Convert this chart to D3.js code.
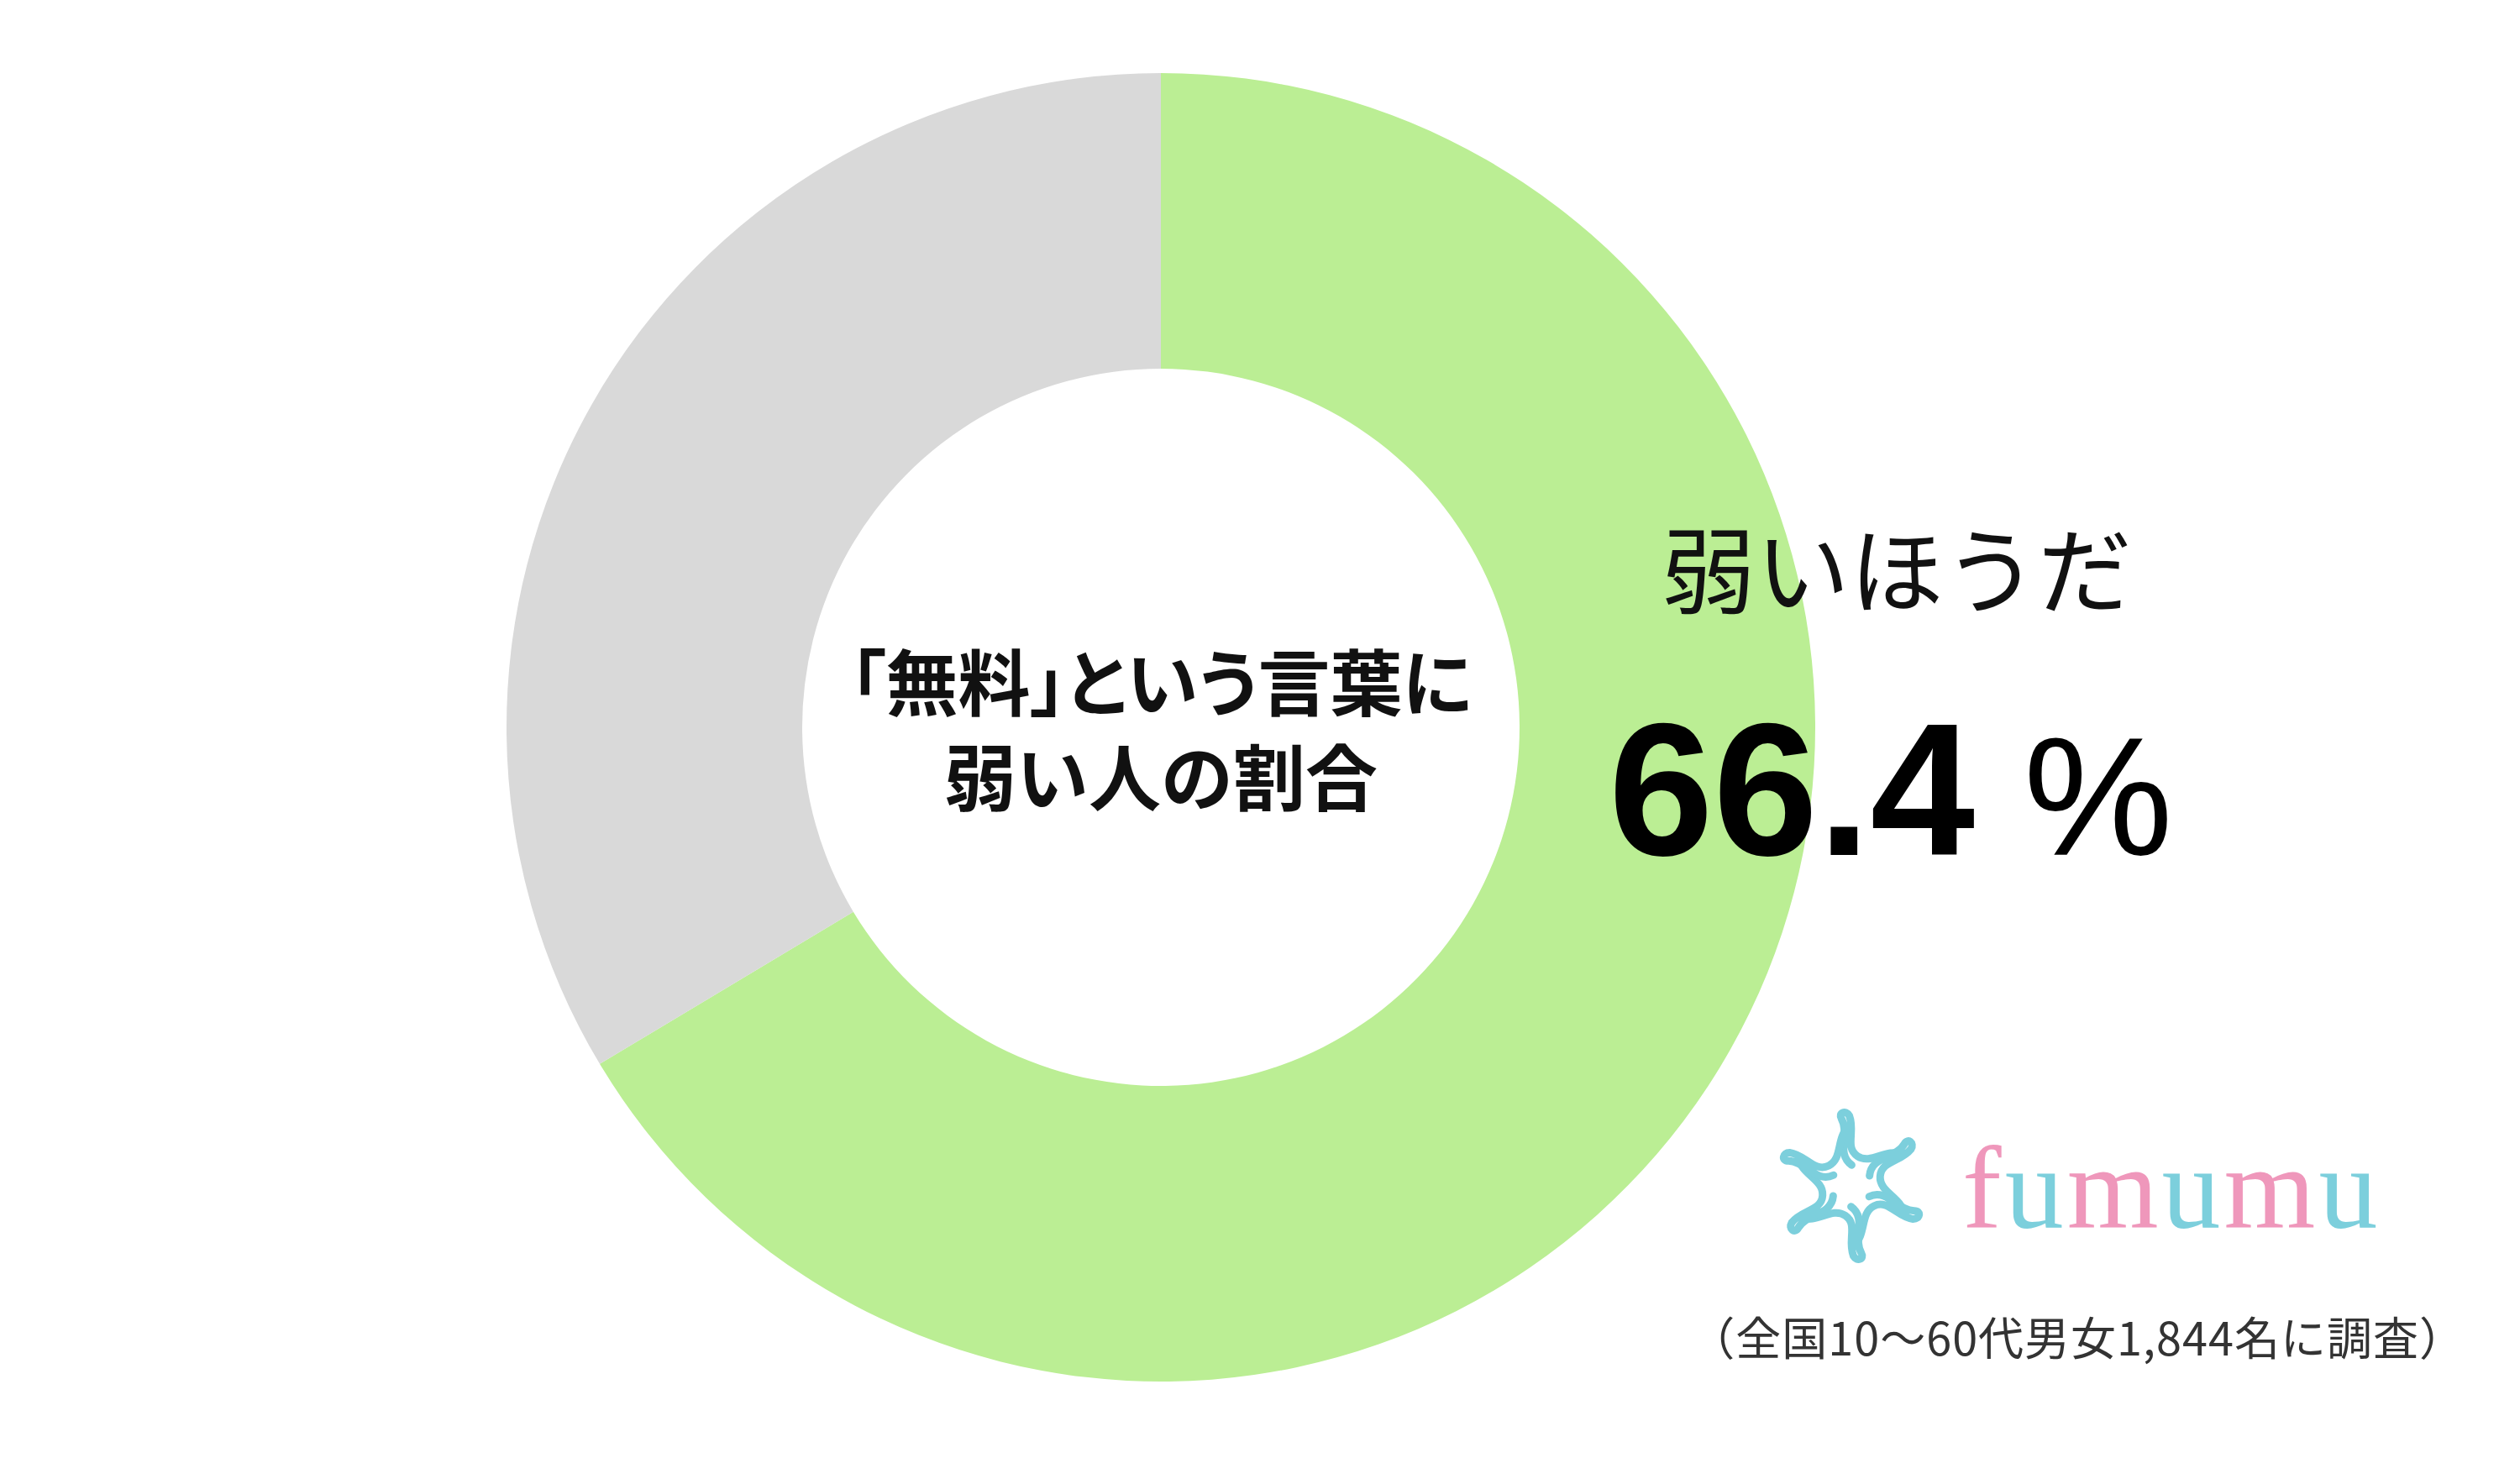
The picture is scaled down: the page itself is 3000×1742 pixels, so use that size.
<!DOCTYPE html>
<html>
<head>
<meta charset="utf-8">
<style>
  body { margin: 0; background: #fff; }
  svg { display: block; }
</style>
<title>「無料」という言葉に弱い人の割合</title>
</head>
<body>
<svg id="chart"></svg>
<script src="https://cdn.jsdelivr.net/npm/d3@7"></script>
<script>

// ===== Data =====
var categories = ['弱いほうだ', 'それ以外'];
var values = [66.4, 33.6];
var colors = ['#bbee94', '#d9d9d9'];
var centerLines = ['「無料」という言葉に', '弱い人の割合'];
var note = '（全国10～60代男女1,844名に調査）';
var brand = ['f', 'u', 'm', 'u', 'm', 'u'];
var brandColors = ['#ef97bb', '#7ccfdc'];

var W = 3000, H = 1742;
var cx = 1382, cy = 866;
var outerR = 779, innerR = 427;

var svg = d3.select('#chart')
    .attr('width', W)
    .attr('height', H);

var jp = "'Noto Sans CJK JP', 'Noto Sans', sans-serif";

// ===== Donut =====
var pie = d3.pie().sort(null).value(d => d);
var arc = d3.arc().innerRadius(innerR).outerRadius(outerR);

var g = svg.append('g')
    .attr('transform', `translate(${cx}, ${cy})`);

g.selectAll('path')
    .data(pie(values))
    .enter()
    .append('path')
        .attr('d', arc)
        .attr('fill', (d, i) => colors[i]);

// center title
g.selectAll('text.center')
    .data(centerLines)
    .enter()
    .append('text')
        .attr('class', 'center')
        .attr('x', 0)
        .attr('y', (d, i) => -58 + i * 113)
        .attr('text-anchor', 'middle')
        .attr('dominant-baseline', 'central')
        .style('font-family', jp)
        .style('font-weight', 700)
        .style('font-size', '86px')
        .style('font-feature-settings', (d, i) => i == 0 ? "'palt'" : 'normal')
        .attr('fill', '#111')
        .text(d => d);

// ===== Label for main slice =====
svg.append('text')
    .attr('x', 1978)
    .attr('y', 673)
    .attr('dominant-baseline', 'central')
    .style('font-family', jp)
    .style('font-size', '112px')
    .attr('fill', '#111')
    .text(categories[0]);

var pct = svg.append('text')
    .attr('x', 1915)
    .attr('y', 1018)
    .attr('fill', '#000');
pct.append('tspan')
    .style('font-family', "'Liberation Sans', Arial, sans-serif")
    .style('font-weight', 700)
    .style('font-size', '224px')
    .text(d3.format('.1f')(values[0]));
pct.append('tspan')
    .attr('dx', 58)
    .style('font-family', "'Liberation Sans', Arial, sans-serif")
    .style('font-size', '200px')
    .text('%');

// ===== Brand logo =====
var logo = svg.append('g')
    .attr('transform', 'translate(2204, 1412)');
var swirl = 'M-6,-24 C-28,-32 -18,-60 -32,-74 C-38,-80 -30,-86 -24,-80 C-12,-64 -20,-42 -2,-36 C16,-30 28,-54 48,-52';
d3.range(6).forEach(function(i) {
    logo.append('path')
        .attr('d', swirl)
        .attr('transform', `rotate(${i * 60 + 15})`)
        .attr('fill', 'none')
        .attr('stroke', '#7ccfdc')
        .attr('stroke-width', 9)
        .attr('stroke-linecap', 'round');
});

var brandText = svg.append('text')
    .attr('x', 2336)
    .attr('y', 1462)
    .style('font-family', "'Liberation Serif', 'DejaVu Serif', serif")
    .style('font-size', '140px')
    .style('letter-spacing', '4px');
brandText.selectAll('tspan')
    .data(brand)
    .enter()
    .append('tspan')
        .attr('fill', (d, i) => brandColors[i % 2])
        .text(d => d);

// ===== Footnote =====
svg.append('text')
    .attr('x', 2935)
    .attr('y', 1590)
    .attr('text-anchor', 'end')
    .attr('dominant-baseline', 'central')
    .style('font-family', jp)
    .style('font-size', '54px')
    .style('letter-spacing', '1px')
    .attr('fill', '#333')
    .text(note);

</script>
</body>
</html>
